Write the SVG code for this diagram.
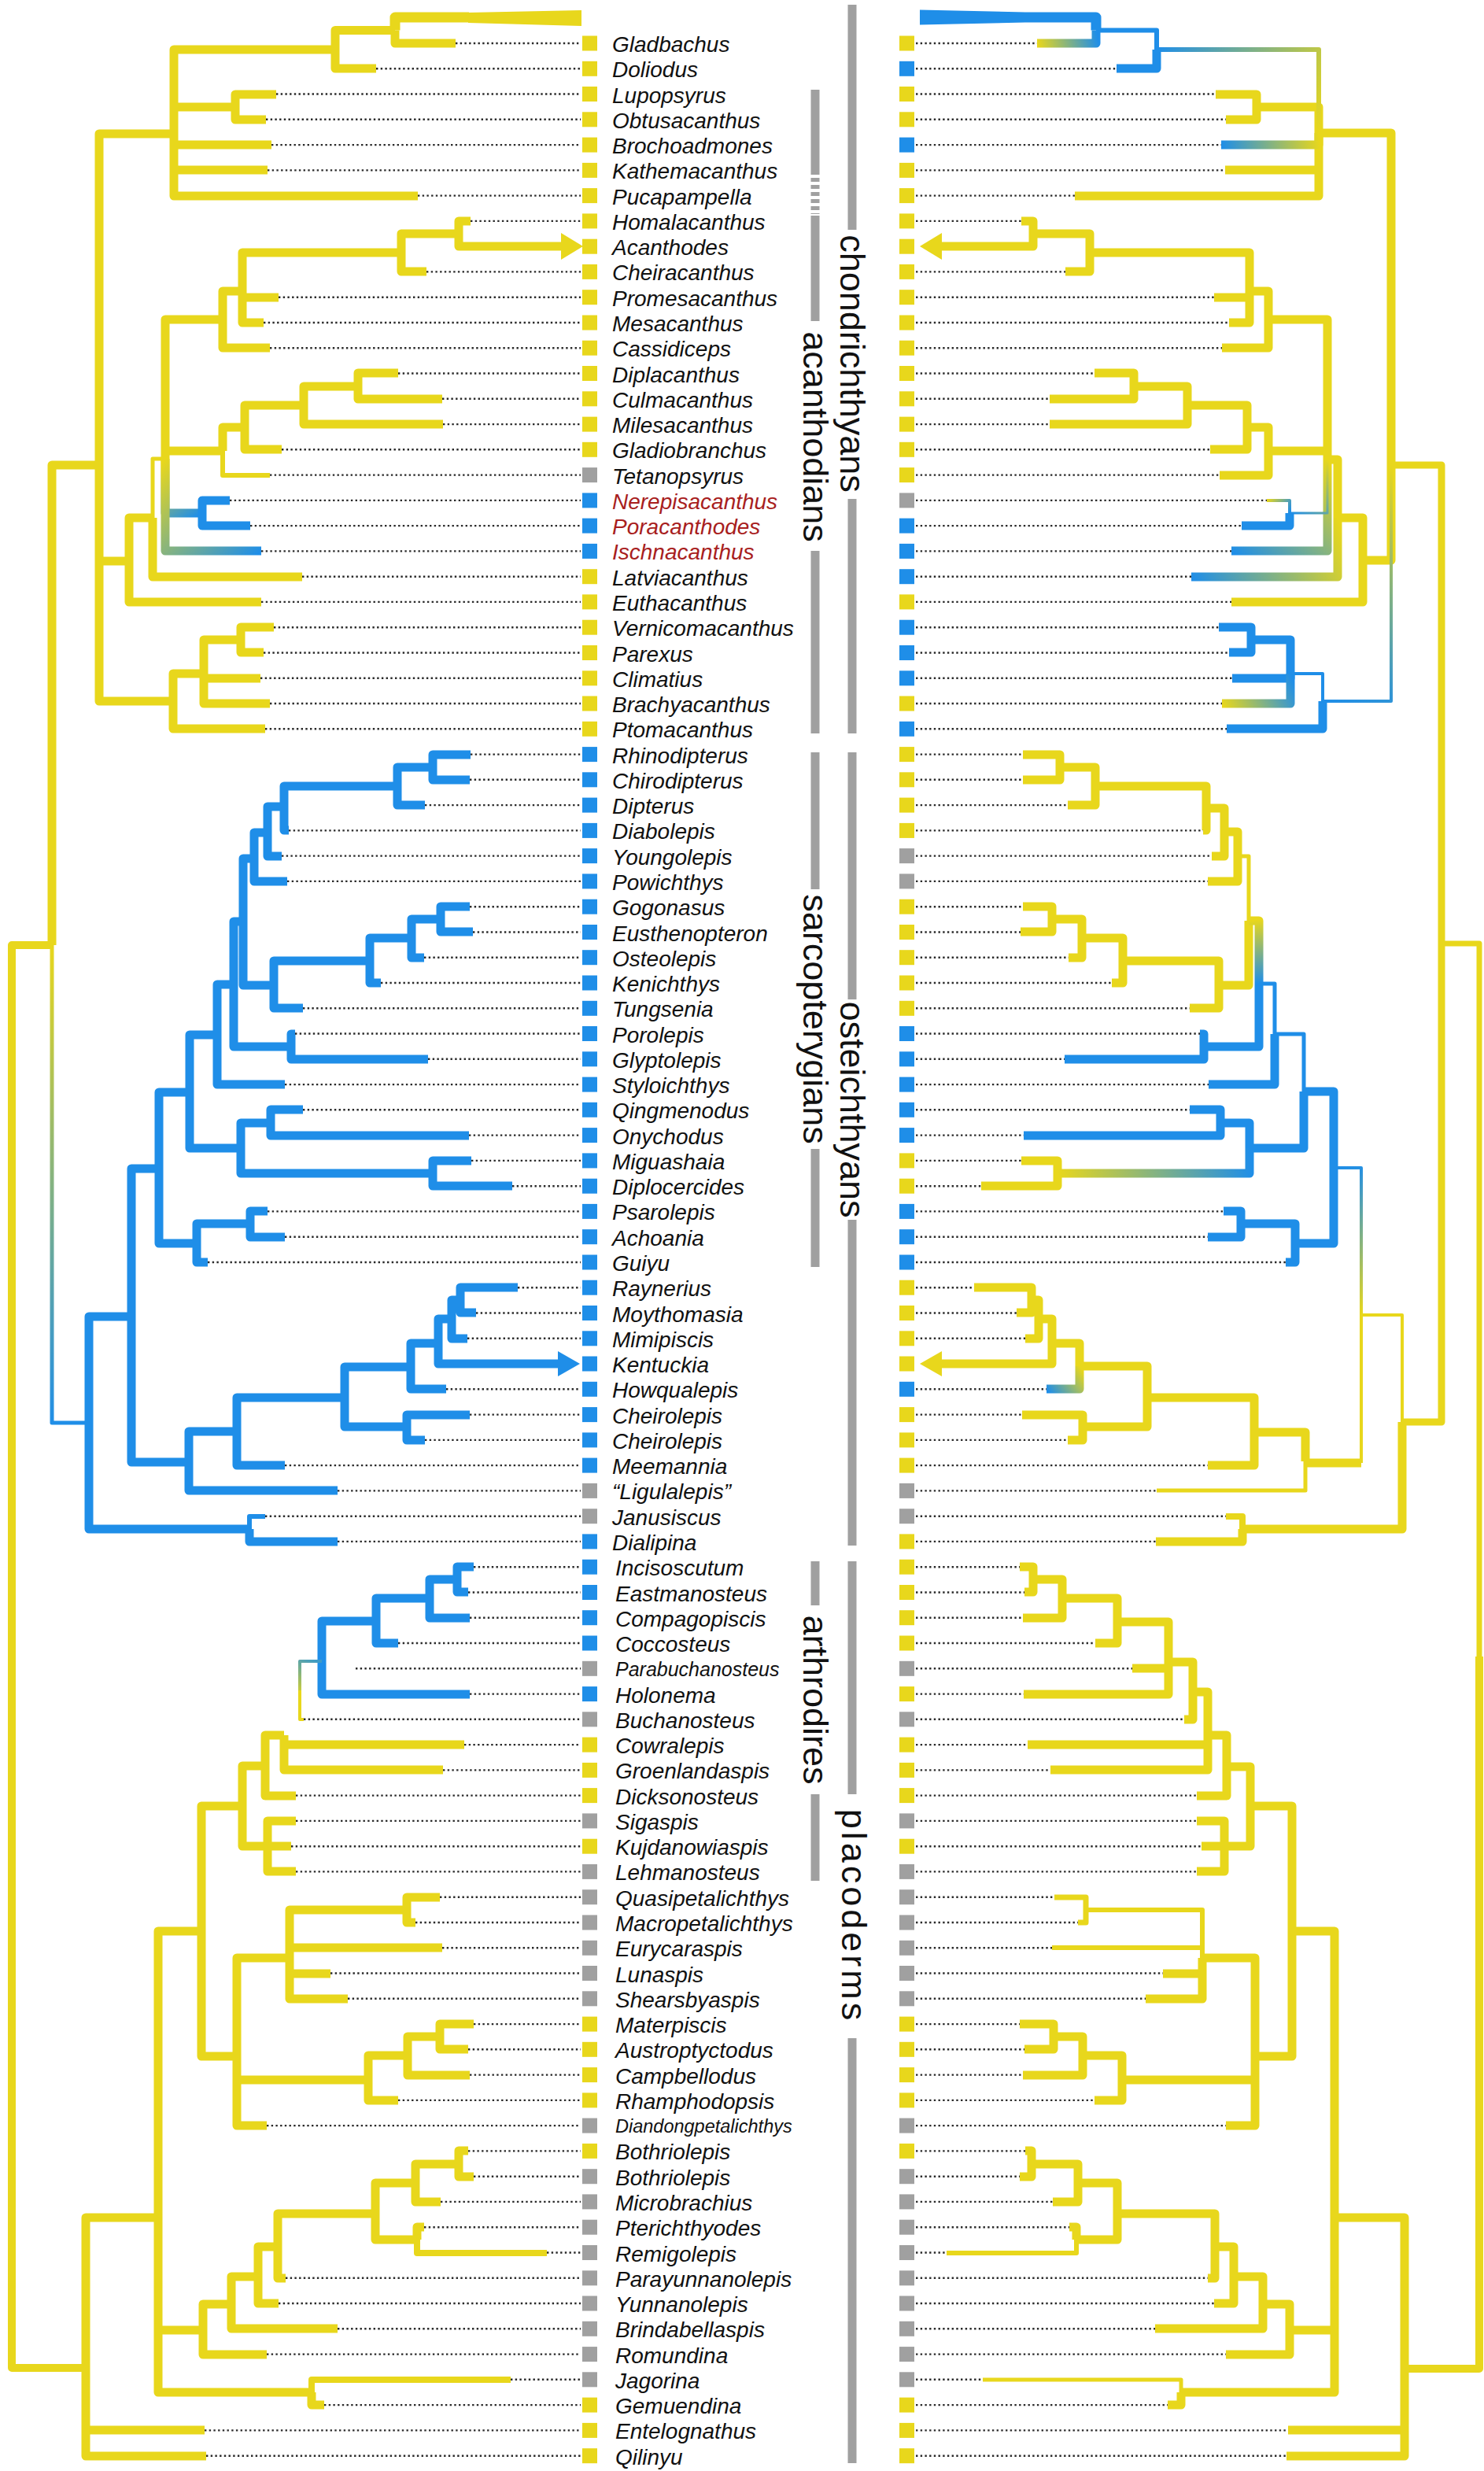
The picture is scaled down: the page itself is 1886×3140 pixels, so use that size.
<svg xmlns="http://www.w3.org/2000/svg" width="1886" height="3140" viewBox="0 0 1886 3140">
<style>
path{fill:none;stroke-linejoin:round;stroke-linecap:butt}
.y{stroke:#E8D71C}.b{stroke:#1F8EE8}
.w13{stroke-width:13}.w11{stroke-width:11}.w10{stroke-width:10}.w9{stroke-width:9}.w8{stroke-width:8}.w7{stroke-width:7}.w6{stroke-width:6}.w5{stroke-width:5}.w4{stroke-width:4}.w3{stroke-width:3}
.dot{stroke:#2a2a2a;stroke-width:2.4;stroke-dasharray:2.4 3.3}
.fy{fill:#E8D71C}.fb{fill:#1F8EE8}.fg{fill:#A0A0A0}
text.t{font-family:"Liberation Sans",Arial,sans-serif;font-style:italic;font-size:28px;fill:#111}
text.r{fill:#A81E1E}
text.c{font-family:"Liberation Sans",Arial,sans-serif;font-size:45px;fill:#111}
.bar{fill:#A0A0A0}
</style>
<defs>
<linearGradient id="gL1" gradientUnits="userSpaceOnUse" x1="210" y1="583" x2="257" y2="652"><stop offset="0" stop-color="#E8D71C"/><stop offset="1" stop-color="#1F8EE8"/></linearGradient>
<linearGradient id="gL2" gradientUnits="userSpaceOnUse" x1="210" y1="583" x2="332" y2="700"><stop offset="0" stop-color="#E8D71C"/><stop offset="1" stop-color="#1F8EE8"/></linearGradient>
<linearGradient id="gL3" gradientUnits="userSpaceOnUse" x1="66" y1="1201" x2="113" y2="1808"><stop offset="0" stop-color="#E8D71C"/><stop offset="1" stop-color="#1F8EE8"/></linearGradient>
<linearGradient id="gL4" gradientUnits="userSpaceOnUse" x1="381" y1="2160" x2="405" y2="2111"><stop offset="0" stop-color="#E8D71C"/><stop offset="1" stop-color="#3C9AC8"/></linearGradient>
<linearGradient id="gR1" gradientUnits="userSpaceOnUse" x1="1393" y1="38" x2="1318" y2="55"><stop offset="0" stop-color="#1F8EE8"/><stop offset="1" stop-color="#E8D71C"/></linearGradient>
<linearGradient id="gR2" gradientUnits="userSpaceOnUse" x1="1676" y1="169" x2="1470" y2="63"><stop offset="0" stop-color="#E8D71C"/><stop offset="1" stop-color="#1F8EE8"/></linearGradient>
<linearGradient id="gR3" gradientUnits="userSpaceOnUse" x1="1676" y1="169" x2="1552" y2="184"><stop offset="0" stop-color="#E8D71C"/><stop offset="1" stop-color="#1F8EE8"/></linearGradient>
<linearGradient id="gR4" gradientUnits="userSpaceOnUse" x1="1687" y1="584" x2="1565" y2="700"><stop offset="0" stop-color="#E8D71C"/><stop offset="1" stop-color="#1F8EE8"/></linearGradient>
<linearGradient id="gR5" gradientUnits="userSpaceOnUse" x1="1700" y1="658" x2="1514" y2="733"><stop offset="0" stop-color="#E8D71C"/><stop offset="1" stop-color="#1F8EE8"/></linearGradient>
<linearGradient id="gR6" gradientUnits="userSpaceOnUse" x1="1639" y1="652" x2="1610" y2="636"><stop offset="0" stop-color="#1F8EE8"/><stop offset="1" stop-color="#E8D71C"/></linearGradient>
<linearGradient id="gR7" gradientUnits="userSpaceOnUse" x1="1768" y1="591" x2="1681" y2="891"><stop offset="0" stop-color="#E8D71C"/><stop offset="1" stop-color="#1F8EE8"/></linearGradient>
<linearGradient id="gR8" gradientUnits="userSpaceOnUse" x1="1640" y1="856" x2="1553" y2="894"><stop offset="0" stop-color="#1F8EE8"/><stop offset="1" stop-color="#E8D71C"/></linearGradient>
<linearGradient id="gR9" gradientUnits="userSpaceOnUse" x1="1588" y1="1459" x2="1344" y2="1491"><stop offset="0" stop-color="#1F8EE8"/><stop offset="1" stop-color="#E8D71C"/></linearGradient>
<linearGradient id="gR10" gradientUnits="userSpaceOnUse" x1="1600" y1="1250" x2="1590" y2="1170"><stop offset="0" stop-color="#1F8EE8"/><stop offset="1" stop-color="#E8D71C"/></linearGradient>
<linearGradient id="gR11" gradientUnits="userSpaceOnUse" x1="1730" y1="1671" x2="1695" y2="1484"><stop offset="0" stop-color="#E8D71C"/><stop offset="1" stop-color="#1F8EE8"/></linearGradient>
<linearGradient id="gR12" gradientUnits="userSpaceOnUse" x1="1372" y1="1736" x2="1330" y2="1765"><stop offset="0" stop-color="#E8D71C"/><stop offset="1" stop-color="#1F8EE8"/></linearGradient>
<linearGradient id="gR13" gradientUnits="userSpaceOnUse" x1="1687" y1="584" x2="1639" y2="652"><stop offset="0" stop-color="#E8D71C"/><stop offset="1" stop-color="#1F8EE8"/></linearGradient>
</defs>
<rect width="1886" height="3140" fill="#fff"/>

<g id="connectors">
<g id="tree-left">
<path class="y w10" d="M15 2105V1201H66M15 2105V3009H109"/>
<path class="y w11" d="M66 1201V591H126M126 591V170H221M126 591V713H164M126 591V891H220M221 170V63H426M221 170V136H299M221 170V184H345M221 170V216H340M221 170V249H531M426 63V38.5H502M426 63V87H478M502 38.5V55H579M299 136V120H351M299 136V152H338M164 713V658H194M164 713V765H332M194 658V733H384M210 583V406H283M210 583V573H283M283 406V370H308M283 406V442H343M308 370V321H510M308 370V378H354M308 370V410H335M510 321V297H583M510 321V345H542M583 297V281H598M583 297V313H714M283 573V543H311M311 543V515H386M311 543V571H358M386 515V491H455M386 515V539H563M455 491V474H506M455 491V507H562M220 891V856H259M220 891V926H337M259 856V813H306M259 856V862H331M259 856V894H343M306 813V797H348M306 813V829H335"/>
<path class="y w13" d="M502 38.5V22H596"/>
<polygon class="fy" points="595,16 739,13 739,33 595,29"/>
<polygon class="fy" points="713,296 741,313 713,330"/>
<path class="y w6" d="M283 573V604H343"/>
<path class="y w5" d="M194 658V583H210"/>
<path stroke="url(#gL1)" class="w11" d="M210 583V652H257"/>
<path stroke="url(#gL2)" class="w11" d="M210 583V700H332"/>
<path class="b w11" d="M257 652V636H292M257 652V668H318"/>
<path stroke="url(#gL3)" class="w5" d="M66 1201V1808H113"/>
<path class="b w11" d="M113 1808V1673H167M113 1808V1943H317M317 1943V1959H429M167 1673V1485H202M167 1673V1858H240M202 1485V1388H241M202 1485V1580H250M241 1388V1315H276M241 1388V1459H306M276 1315V1251H297M276 1315V1378H362M297 1251V1171H309M297 1251V1330H370M309 1171V1091H323M309 1171V1252H348M323 1091V1058H340M323 1091V1120H365M340 1058V1025H361M340 1058V1088H358M361 1025V999H505M361 1025V1055H367M505 999V975H550M505 999V1023H540M550 975V959H598M550 975V991H597M348 1252V1221H470M348 1252V1281H385M470 1221V1192H523M470 1221V1249H484M523 1192V1168H560M523 1192V1217H539M560 1168V1152H597M560 1168V1184H601M370 1330V1314H375M370 1330V1346H544M306 1459V1427H344M306 1459V1491H550M344 1427V1410H385M344 1427V1443H596M550 1491V1475H599M550 1491V1507H651M250 1580V1555H318M250 1580V1604H264M318 1555V1539H340M318 1555V1572H362M240 1858V1819H301M240 1858V1894H429M301 1819V1776H438M301 1819V1862H362M438 1776V1737H522M438 1776V1813H517M517 1813V1798H597M517 1813V1830H540M522 1737V1707H557M522 1737V1765H567M557 1707V1676H574M557 1707V1733H710M574 1676V1652H585M574 1676V1701H594M585 1652V1636H658M585 1652V1668H605M409 2111V2060H478M409 2111V2153H597M478 2060V2031H546M478 2060V2088H506M546 2031V2007H581M546 2031V2056H597M581 2007V1991H602M581 2007V2023H595"/>
<path class="b w6" d="M317 1943V1927H337"/>
<polygon class="fb" points="709,1717 737,1733 709,1749"/>
<path stroke="url(#gL4)" class="w4" d="M381 2148V2111H409"/>
<path class="y w4" d="M381 2148V2185H386"/>
<path class="y w11" d="M109 3009V2818H201M109 3009V3088H260M109 3009V3121H262M201 2818V2454H256M201 2818V2961H258M201 2818V3040H396M396 3040V3056H412M256 2454V2295H308M256 2454V2613H301M308 2295V2244H337M308 2295V2346H340M340 2346V2314H376M340 2346H370M340 2346V2378H376M337 2244V2205H361M337 2244V2282H376M361 2205V2217H590M361 2205V2249H563M301 2613V2488H368M301 2613V2643H468M301 2613V2701H339M368 2488V2427H517M368 2488V2475H562M368 2488V2508H420M368 2488V2540H442M517 2427V2411H559M517 2427V2443H528M468 2643V2612H518M468 2643V2669H506M518 2612V2588H559M518 2612V2637H597M559 2588V2572H602M559 2588V2604H595M258 2961V2928H294M258 2961V2992H339M294 2928V2893H328M294 2928V2959H429M328 2893V2855H353M328 2893V2927H354M353 2855V2813H477M353 2855V2895H363M477 2813V2774H528M477 2813V2846H530M528 2774V2750H583M528 2774V2798H560M583 2750V2733H595M583 2750V2766H602M530 2846V2830H539"/>
<path class="y w8" d="M396 3040V3024H649M530 2846V2863H695"/>
</g>

<g id="tree-right">
<path class="y w7" d="M1880 2105V1199H1832"/>
<path class="y w10" d="M1880 2105V3010H1785"/>
<path class="y w9" d="M1832 1199V591H1768M1832 1199V1807H1782"/>
<path class="y w11" d="M1768 591V169H1676M1768 591V712H1732M1676 169V136H1597M1676 169V216H1557M1676 169V249H1366M1597 136V120H1545M1597 136V152H1558M1732 712V658H1700M1732 712V765H1565M1700 658V584H1687M1687 584V406H1612M1687 584V573H1612M1612 406V370H1588M1612 406V442H1553M1588 370V321H1385M1588 370V378H1543M1588 370V410H1562M1385 321V297H1313M1385 321V345H1354M1313 297V281H1298M1313 297V313H1196M1612 573V543H1585M1612 573V604H1550M1585 543V515H1509M1585 543V571H1538M1509 515V491H1441M1509 515V539H1334M1441 491V474H1391M1441 491V507H1334"/>
<polygon class="fy" points="1197,296 1169,313 1197,330"/>
<path stroke="url(#gR2)" class="w6" d="M1676 169V63H1470"/>
<path stroke="url(#gR3)" class="w11" d="M1676 169V184H1552"/>
<path class="b w6" d="M1470 63V38.5H1393"/>
<path class="b w11" d="M1470 63V87H1419"/>
<path class="b w13" d="M1393 38.5V22H1303"/>
<polygon class="fb" points="1303,15.5 1169,12.5 1169,31.5 1303,28.5"/>
<path stroke="url(#gR1)" class="w11" d="M1393 38.5V55H1318"/>
<path stroke="url(#gR4)" class="w11" d="M1687 584V700H1565"/>
<path stroke="url(#gR13)" class="w3" d="M1687 584V652H1639"/>
<path stroke="url(#gR5)" class="w11" d="M1700 658V733H1514"/>
<path stroke="url(#gR6)" class="w4" d="M1639 652V636H1610"/>
<path class="b w11" d="M1639 652V668H1578"/>
<path stroke="url(#gR7)" class="w4" d="M1768 591V891H1681"/>
<path class="b w4" d="M1681 891V856H1640"/>
<path class="b w11" d="M1681 891V926H1559M1640 856V813H1590M1640 856V862H1566M1590 813V797H1549M1590 813V829H1562"/>
<path stroke="url(#gR8)" class="w11" d="M1640 856V894H1553"/>
<path class="y w11" d="M1782 1807V1943H1579M1579 1943V1959H1469M1730 1859H1659M1659 1857V1820H1594M1594 1820V1776H1458M1594 1820V1862H1535M1458 1776V1736H1372M1458 1776V1813H1376M1376 1813V1798H1299M1376 1813V1830H1357M1372 1736V1707H1337M1337 1707V1676H1320M1337 1707V1733H1196M1320 1676V1652H1311M1320 1676V1701H1303M1311 1652V1636H1238M1311 1652V1668H1292M1344 1491V1475H1298M1344 1491V1507H1247M1587 1170V1252H1549M1573 1088V1057H1556M1573 1088V1120H1535M1556 1057V1027H1533M1556 1057V1088H1540M1533 1027V999H1392M1533 1027V1055H1529M1392 999V975H1347M1392 999V1023H1357M1347 975V959H1300M1347 975V991H1300M1549 1252V1221H1427M1549 1252V1281H1512M1427 1221V1192H1375M1427 1221V1249H1413M1375 1192V1168H1337M1375 1192V1217H1358M1337 1168V1152H1300M1337 1168V1184H1297"/>
<polygon class="fy" points="1197,1717 1169,1733 1197,1749"/>
<path class="y w8" d="M1579 1943V1927H1558"/>
<path class="y w4" d="M1782 1807V1671H1730M1730 1671V1859"/>
<path class="y w5" d="M1659 1857V1894H1470M1587 1170V1088H1573"/>
<path stroke="url(#gR11)" class="w4" d="M1730 1671V1484H1695"/>
<path stroke="url(#gR12)" class="w11" d="M1372 1736V1765H1330"/>
<path stroke="url(#gR9)" class="w11" d="M1588 1459V1491H1344"/>
<path stroke="url(#gR10)" class="w11" d="M1600 1250V1170H1587"/>
<path class="b w11" d="M1695 1484V1387H1657M1695 1484V1580H1646M1646 1580V1555H1577M1646 1580V1604H1634M1577 1555V1539H1555M1577 1555V1572H1535M1657 1387V1459H1588M1588 1459V1427H1551M1551 1427V1410H1512M1551 1427V1443H1301M1620 1314V1378H1536M1600 1250V1330H1530M1530 1330V1314H1525M1530 1330V1346H1353"/>
<path class="b w5" d="M1657 1387V1314H1620M1620 1314V1250H1600"/>
<path class="y w11" d="M1785 3010V2818H1696M1785 3010V3088H1637M1785 3010V3121H1635M1696 2818V2454H1642M1696 2818V2961H1639M1696 2818V3040H1501M1501 3040V3056H1484M1642 2454V2295H1589M1642 2454V2613H1595M1589 2295V2245H1559M1589 2295V2346H1556M1556 2346V2314H1521M1556 2346H1527M1556 2346V2378H1521M1559 2245V2205H1535M1559 2245V2282H1521M1535 2205V2150H1516M1535 2205V2217H1306M1535 2205V2249H1335M1516 2150V2112H1485M1516 2150V2185H1505M1485 2112V2061H1420M1485 2112V2120H1439M1485 2112V2153H1301M1420 2061V2031H1350M1420 2061V2088H1392M1350 2031V2007H1313M1350 2031V2056H1300M1313 2007V1991H1296M1313 2007V2023H1302M1595 2613V2488H1528M1595 2613V2643H1426M1595 2613V2701H1558M1528 2488V2508H1478M1528 2488V2540H1456M1426 2643V2612H1376M1426 2643V2669H1391M1376 2612V2588H1339M1376 2612V2637H1300M1339 2588V2572H1296M1339 2588V2604H1302M1639 2961V2928H1605M1639 2961V2992H1558M1605 2928V2893H1568M1605 2928V2959H1468M1568 2893V2855H1544M1568 2893V2927H1543M1544 2855V2813H1420M1544 2855V2895H1535M1420 2813V2774H1370M1420 2813V2846H1368M1370 2774V2750H1311M1370 2774V2798H1338M1311 2750V2733H1303M1311 2750V2766H1296M1368 2846V2830H1359"/>
<path class="y w6" d="M1528 2488V2427H1380M1528 2488V2475H1337M1368 2846V2863H1203"/>
<path class="y w7" d="M1380 2427V2411H1340M1380 2427V2443H1370"/>
<path class="y w5" d="M1501 3040V3024H1249"/>
</g>

<g id="leader-dots">
<path class="dot" d="M579 55H738M478 87.3H738M351 119.5H738M338 151.8H738M345 184.1H738M340 216.4H738M531 248.6H738M598 280.9H738M542 345.4H738M354 377.7H738M335 410H738M343 442.2H738M506 474.5H738M562 506.8H738M563 539.1H738M358 571.3H738M343 603.6H738M292 635.9H738M318 668.1H738M332 700.4H738M384 732.7H738M332 764.9H738M348 797.2H738M335 829.5H738M331 861.8H738M343 894H738M337 926.3H738M598 958.6H738M597 990.8H738M540 1023.1H738M367 1055.4H738M358 1087.6H738M365 1119.9H738M597 1152.2H738M601 1184.5H738M539 1216.7H738M484 1249H738M385 1281.3H738M375 1313.5H738M544 1345.8H738M362 1378.1H738M385 1410.3H738M596 1442.6H738M599 1474.9H738M651 1507.2H738M340 1539.4H738M362 1571.7H738M264 1604H738M658 1636.2H738M605 1668.5H738M594 1700.8H738M567 1765.3H738M597 1797.6H738M540 1829.9H738M362 1862.1H738M429 1894.4H738M337 1926.7H738M429 1958.9H738M602 1991.2H738M595 2023.5H738M597 2055.7H738M506 2088H738M452 2120.3H738M597 2152.6H738M386 2184.8H738M590 2217.1H738M563 2249.4H738M376 2281.6H738M376 2313.9H738M370 2346.2H738M376 2378.4H738M559 2410.7H738M528 2443H738M562 2475.3H738M420 2507.5H738M442 2539.8H738M602 2572.1H738M595 2604.3H738M597 2636.6H738M506 2668.9H738M339 2701.1H738M595 2733.4H738M602 2765.7H738M560 2797.9H738M539 2830.2H738M695 2862.5H738M363 2894.8H738M354 2927H738M429 2959.3H738M339 2991.6H738M649 3023.8H738M412 3056.1H738M260 3088.4H738M262 3120.7H738"/>
<path class="dot" d="M1164 55H1318M1164 87.3H1419M1164 119.5H1545M1164 151.8H1558M1164 184.1H1552M1164 216.4H1557M1164 248.6H1366M1164 280.9H1298M1164 345.4H1354M1164 377.7H1543M1164 410H1562M1164 442.2H1553M1164 474.5H1391M1164 506.8H1334M1164 539.1H1334M1164 571.3H1538M1164 603.6H1550M1164 635.9H1610M1164 668.1H1578M1164 700.4H1565M1164 732.7H1514M1164 764.9H1565M1164 797.2H1549M1164 829.5H1562M1164 861.8H1566M1164 894H1553M1164 926.3H1559M1164 958.6H1300M1164 990.8H1300M1164 1023.1H1357M1164 1055.4H1529M1164 1087.6H1540M1164 1119.9H1535M1164 1152.2H1300M1164 1184.5H1297M1164 1216.7H1358M1164 1249H1413M1164 1281.3H1512M1164 1313.5H1525M1164 1345.8H1353M1164 1378.1H1536M1164 1410.3H1512M1164 1442.6H1301M1164 1474.9H1298M1164 1507.2H1247M1164 1539.4H1555M1164 1571.7H1535M1164 1604H1634M1164 1636.2H1238M1164 1668.5H1292M1164 1700.8H1303M1164 1765.3H1330M1164 1797.6H1299M1164 1829.9H1357M1164 1862.1H1535M1164 1894.4H1470M1164 1926.7H1558M1164 1958.9H1469M1164 1991.2H1296M1164 2023.5H1302M1164 2055.7H1300M1164 2088H1392M1164 2120.3H1439M1164 2152.6H1301M1164 2184.8H1505M1164 2217.1H1306M1164 2249.4H1335M1164 2281.6H1521M1164 2313.9H1521M1164 2346.2H1527M1164 2378.4H1521M1164 2410.7H1340M1164 2443H1370M1164 2475.3H1337M1164 2507.5H1478M1164 2539.8H1456M1164 2572.1H1296M1164 2604.3H1302M1164 2636.6H1300M1164 2668.9H1391M1164 2701.1H1558M1164 2733.4H1303M1164 2765.7H1296M1164 2797.9H1338M1164 2830.2H1359M1164 2862.5H1203M1164 2894.8H1535M1164 2927H1543M1164 2959.3H1468M1164 2991.6H1558M1164 3023.8H1249M1164 3056.1H1484M1164 3088.4H1637M1164 3120.7H1635"/>
</g>
</g>

<g id="taxa">
<g id="t01"><rect class="fy" x="740" y="45.5" width="19" height="19"/><rect class="fy" x="1143" y="45.5" width="19" height="19"/><text class="t" x="778" y="66">Gladbachus</text></g>
<g id="t02"><rect class="fy" x="740" y="77.8" width="19" height="19"/><rect class="fb" x="1143" y="77.8" width="19" height="19"/><text class="t" x="778" y="98.3">Doliodus</text></g>
<g id="t03"><rect class="fy" x="740" y="110" width="19" height="19"/><rect class="fy" x="1143" y="110" width="19" height="19"/><text class="t" x="778" y="130.5">Lupopsyrus</text></g>
<g id="t04"><rect class="fy" x="740" y="142.3" width="19" height="19"/><rect class="fy" x="1143" y="142.3" width="19" height="19"/><text class="t" x="778" y="162.8">Obtusacanthus</text></g>
<g id="t05"><rect class="fy" x="740" y="174.6" width="19" height="19"/><rect class="fb" x="1143" y="174.6" width="19" height="19"/><text class="t" x="778" y="195.1">Brochoadmones</text></g>
<g id="t06"><rect class="fy" x="740" y="206.9" width="19" height="19"/><rect class="fy" x="1143" y="206.9" width="19" height="19"/><text class="t" x="778" y="227.4">Kathemacanthus</text></g>
<g id="t07"><rect class="fy" x="740" y="239.1" width="19" height="19"/><rect class="fy" x="1143" y="239.1" width="19" height="19"/><text class="t" x="778" y="259.6">Pucapampella</text></g>
<g id="t08"><rect class="fy" x="740" y="271.4" width="19" height="19"/><rect class="fy" x="1143" y="271.4" width="19" height="19"/><text class="t" x="778" y="291.9">Homalacanthus</text></g>
<g id="t09"><rect class="fy" x="740" y="303.7" width="19" height="19"/><rect class="fy" x="1143" y="303.7" width="19" height="19"/><text class="t" x="778" y="324.2">Acanthodes</text></g>
<g id="t10"><rect class="fy" x="740" y="335.9" width="19" height="19"/><rect class="fy" x="1143" y="335.9" width="19" height="19"/><text class="t" x="778" y="356.4">Cheiracanthus</text></g>
<g id="t11"><rect class="fy" x="740" y="368.2" width="19" height="19"/><rect class="fy" x="1143" y="368.2" width="19" height="19"/><text class="t" x="778" y="388.7">Promesacanthus</text></g>
<g id="t12"><rect class="fy" x="740" y="400.5" width="19" height="19"/><rect class="fy" x="1143" y="400.5" width="19" height="19"/><text class="t" x="778" y="421">Mesacanthus</text></g>
<g id="t13"><rect class="fy" x="740" y="432.7" width="19" height="19"/><rect class="fy" x="1143" y="432.7" width="19" height="19"/><text class="t" x="778" y="453.2">Cassidiceps</text></g>
<g id="t14"><rect class="fy" x="740" y="465" width="19" height="19"/><rect class="fy" x="1143" y="465" width="19" height="19"/><text class="t" x="778" y="485.5">Diplacanthus</text></g>
<g id="t15"><rect class="fy" x="740" y="497.3" width="19" height="19"/><rect class="fy" x="1143" y="497.3" width="19" height="19"/><text class="t" x="778" y="517.8">Culmacanthus</text></g>
<g id="t16"><rect class="fy" x="740" y="529.6" width="19" height="19"/><rect class="fy" x="1143" y="529.6" width="19" height="19"/><text class="t" x="778" y="550.1">Milesacanthus</text></g>
<g id="t17"><rect class="fy" x="740" y="561.8" width="19" height="19"/><rect class="fy" x="1143" y="561.8" width="19" height="19"/><text class="t" x="778" y="582.3">Gladiobranchus</text></g>
<g id="t18"><rect class="fg" x="740" y="594.1" width="19" height="19"/><rect class="fy" x="1143" y="594.1" width="19" height="19"/><text class="t" x="778" y="614.6">Tetanopsyrus</text></g>
<g id="t19"><rect class="fb" x="740" y="626.4" width="19" height="19"/><rect class="fg" x="1143" y="626.4" width="19" height="19"/><text class="t r" x="778" y="646.9">Nerepisacanthus</text></g>
<g id="t20"><rect class="fb" x="740" y="658.6" width="19" height="19"/><rect class="fb" x="1143" y="658.6" width="19" height="19"/><text class="t r" x="778" y="679.1">Poracanthodes</text></g>
<g id="t21"><rect class="fb" x="740" y="690.9" width="19" height="19"/><rect class="fb" x="1143" y="690.9" width="19" height="19"/><text class="t r" x="778" y="711.4">Ischnacanthus</text></g>
<g id="t22"><rect class="fy" x="740" y="723.2" width="19" height="19"/><rect class="fb" x="1143" y="723.2" width="19" height="19"/><text class="t" x="778" y="743.7">Latviacanthus</text></g>
<g id="t23"><rect class="fy" x="740" y="755.4" width="19" height="19"/><rect class="fy" x="1143" y="755.4" width="19" height="19"/><text class="t" x="778" y="775.9">Euthacanthus</text></g>
<g id="t24"><rect class="fy" x="740" y="787.7" width="19" height="19"/><rect class="fb" x="1143" y="787.7" width="19" height="19"/><text class="t" x="778" y="808.2">Vernicomacanthus</text></g>
<g id="t25"><rect class="fy" x="740" y="820" width="19" height="19"/><rect class="fb" x="1143" y="820" width="19" height="19"/><text class="t" x="778" y="840.5">Parexus</text></g>
<g id="t26"><rect class="fy" x="740" y="852.3" width="19" height="19"/><rect class="fb" x="1143" y="852.3" width="19" height="19"/><text class="t" x="778" y="872.8">Climatius</text></g>
<g id="t27"><rect class="fy" x="740" y="884.5" width="19" height="19"/><rect class="fy" x="1143" y="884.5" width="19" height="19"/><text class="t" x="778" y="905">Brachyacanthus</text></g>
<g id="t28"><rect class="fy" x="740" y="916.8" width="19" height="19"/><rect class="fb" x="1143" y="916.8" width="19" height="19"/><text class="t" x="778" y="937.3">Ptomacanthus</text></g>
<g id="t29"><rect class="fb" x="740" y="949.1" width="19" height="19"/><rect class="fy" x="1143" y="949.1" width="19" height="19"/><text class="t" x="778" y="969.6">Rhinodipterus</text></g>
<g id="t30"><rect class="fb" x="740" y="981.3" width="19" height="19"/><rect class="fy" x="1143" y="981.3" width="19" height="19"/><text class="t" x="778" y="1001.8">Chirodipterus</text></g>
<g id="t31"><rect class="fb" x="740" y="1013.6" width="19" height="19"/><rect class="fy" x="1143" y="1013.6" width="19" height="19"/><text class="t" x="778" y="1034.1">Dipterus</text></g>
<g id="t32"><rect class="fb" x="740" y="1045.9" width="19" height="19"/><rect class="fy" x="1143" y="1045.9" width="19" height="19"/><text class="t" x="778" y="1066.4">Diabolepis</text></g>
<g id="t33"><rect class="fb" x="740" y="1078.1" width="19" height="19"/><rect class="fg" x="1143" y="1078.1" width="19" height="19"/><text class="t" x="778" y="1098.6">Youngolepis</text></g>
<g id="t34"><rect class="fb" x="740" y="1110.4" width="19" height="19"/><rect class="fg" x="1143" y="1110.4" width="19" height="19"/><text class="t" x="778" y="1130.9">Powichthys</text></g>
<g id="t35"><rect class="fb" x="740" y="1142.7" width="19" height="19"/><rect class="fy" x="1143" y="1142.7" width="19" height="19"/><text class="t" x="778" y="1163.2">Gogonasus</text></g>
<g id="t36"><rect class="fb" x="740" y="1175" width="19" height="19"/><rect class="fy" x="1143" y="1175" width="19" height="19"/><text class="t" x="778" y="1195.5">Eusthenopteron</text></g>
<g id="t37"><rect class="fb" x="740" y="1207.2" width="19" height="19"/><rect class="fy" x="1143" y="1207.2" width="19" height="19"/><text class="t" x="778" y="1227.7">Osteolepis</text></g>
<g id="t38"><rect class="fb" x="740" y="1239.5" width="19" height="19"/><rect class="fy" x="1143" y="1239.5" width="19" height="19"/><text class="t" x="778" y="1260">Kenichthys</text></g>
<g id="t39"><rect class="fb" x="740" y="1271.8" width="19" height="19"/><rect class="fy" x="1143" y="1271.8" width="19" height="19"/><text class="t" x="778" y="1292.3">Tungsenia</text></g>
<g id="t40"><rect class="fb" x="740" y="1304" width="19" height="19"/><rect class="fb" x="1143" y="1304" width="19" height="19"/><text class="t" x="778" y="1324.5">Porolepis</text></g>
<g id="t41"><rect class="fb" x="740" y="1336.3" width="19" height="19"/><rect class="fb" x="1143" y="1336.3" width="19" height="19"/><text class="t" x="778" y="1356.8">Glyptolepis</text></g>
<g id="t42"><rect class="fb" x="740" y="1368.6" width="19" height="19"/><rect class="fb" x="1143" y="1368.6" width="19" height="19"/><text class="t" x="778" y="1389.1">Styloichthys</text></g>
<g id="t43"><rect class="fb" x="740" y="1400.8" width="19" height="19"/><rect class="fb" x="1143" y="1400.8" width="19" height="19"/><text class="t" x="778" y="1421.3">Qingmenodus</text></g>
<g id="t44"><rect class="fb" x="740" y="1433.1" width="19" height="19"/><rect class="fb" x="1143" y="1433.1" width="19" height="19"/><text class="t" x="778" y="1453.6">Onychodus</text></g>
<g id="t45"><rect class="fb" x="740" y="1465.4" width="19" height="19"/><rect class="fy" x="1143" y="1465.4" width="19" height="19"/><text class="t" x="778" y="1485.9">Miguashaia</text></g>
<g id="t46"><rect class="fb" x="740" y="1497.7" width="19" height="19"/><rect class="fy" x="1143" y="1497.7" width="19" height="19"/><text class="t" x="778" y="1518.2">Diplocercides</text></g>
<g id="t47"><rect class="fb" x="740" y="1529.9" width="19" height="19"/><rect class="fb" x="1143" y="1529.9" width="19" height="19"/><text class="t" x="778" y="1550.4">Psarolepis</text></g>
<g id="t48"><rect class="fb" x="740" y="1562.2" width="19" height="19"/><rect class="fb" x="1143" y="1562.2" width="19" height="19"/><text class="t" x="778" y="1582.7">Achoania</text></g>
<g id="t49"><rect class="fb" x="740" y="1594.5" width="19" height="19"/><rect class="fb" x="1143" y="1594.5" width="19" height="19"/><text class="t" x="778" y="1615">Guiyu</text></g>
<g id="t50"><rect class="fb" x="740" y="1626.7" width="19" height="19"/><rect class="fy" x="1143" y="1626.7" width="19" height="19"/><text class="t" x="778" y="1647.2">Raynerius</text></g>
<g id="t51"><rect class="fb" x="740" y="1659" width="19" height="19"/><rect class="fy" x="1143" y="1659" width="19" height="19"/><text class="t" x="778" y="1679.5">Moythomasia</text></g>
<g id="t52"><rect class="fb" x="740" y="1691.3" width="19" height="19"/><rect class="fy" x="1143" y="1691.3" width="19" height="19"/><text class="t" x="778" y="1711.8">Mimipiscis</text></g>
<g id="t53"><rect class="fb" x="740" y="1723.5" width="19" height="19"/><rect class="fy" x="1143" y="1723.5" width="19" height="19"/><text class="t" x="778" y="1744">Kentuckia</text></g>
<g id="t54"><rect class="fb" x="740" y="1755.8" width="19" height="19"/><rect class="fb" x="1143" y="1755.8" width="19" height="19"/><text class="t" x="778" y="1776.3">Howqualepis</text></g>
<g id="t55"><rect class="fb" x="740" y="1788.1" width="19" height="19"/><rect class="fy" x="1143" y="1788.1" width="19" height="19"/><text class="t" x="778" y="1808.6">Cheirolepis</text></g>
<g id="t56"><rect class="fb" x="740" y="1820.4" width="19" height="19"/><rect class="fy" x="1143" y="1820.4" width="19" height="19"/><text class="t" x="778" y="1840.9">Cheirolepis</text></g>
<g id="t57"><rect class="fb" x="740" y="1852.6" width="19" height="19"/><rect class="fy" x="1143" y="1852.6" width="19" height="19"/><text class="t" x="778" y="1873.1">Meemannia</text></g>
<g id="t58"><rect class="fg" x="740" y="1884.9" width="19" height="19"/><rect class="fg" x="1143" y="1884.9" width="19" height="19"/><text class="t" x="778" y="1905.4">“Ligulalepis”</text></g>
<g id="t59"><rect class="fg" x="740" y="1917.2" width="19" height="19"/><rect class="fg" x="1143" y="1917.2" width="19" height="19"/><text class="t" x="778" y="1937.7">Janusiscus</text></g>
<g id="t60"><rect class="fb" x="740" y="1949.4" width="19" height="19"/><rect class="fy" x="1143" y="1949.4" width="19" height="19"/><text class="t" x="778" y="1969.9">Dialipina</text></g>
<g id="t61"><rect class="fb" x="740" y="1981.7" width="19" height="19"/><rect class="fy" x="1143" y="1981.7" width="19" height="19"/><text class="t" x="782" y="2002.2">Incisoscutum</text></g>
<g id="t62"><rect class="fb" x="740" y="2014" width="19" height="19"/><rect class="fy" x="1143" y="2014" width="19" height="19"/><text class="t" x="782" y="2034.5">Eastmanosteus</text></g>
<g id="t63"><rect class="fb" x="740" y="2046.2" width="19" height="19"/><rect class="fy" x="1143" y="2046.2" width="19" height="19"/><text class="t" x="782" y="2066.7">Compagopiscis</text></g>
<g id="t64"><rect class="fb" x="740" y="2078.5" width="19" height="19"/><rect class="fy" x="1143" y="2078.5" width="19" height="19"/><text class="t" x="782" y="2099">Coccosteus</text></g>
<g id="t65"><rect class="fg" x="740" y="2110.8" width="19" height="19"/><rect class="fg" x="1143" y="2110.8" width="19" height="19"/><text class="t" x="782" y="2129.8" style="font-size:25px">Parabuchanosteus</text></g>
<g id="t66"><rect class="fb" x="740" y="2143.1" width="19" height="19"/><rect class="fy" x="1143" y="2143.1" width="19" height="19"/><text class="t" x="782" y="2163.6">Holonema</text></g>
<g id="t67"><rect class="fg" x="740" y="2175.3" width="19" height="19"/><rect class="fg" x="1143" y="2175.3" width="19" height="19"/><text class="t" x="782" y="2195.8">Buchanosteus</text></g>
<g id="t68"><rect class="fy" x="740" y="2207.6" width="19" height="19"/><rect class="fy" x="1143" y="2207.6" width="19" height="19"/><text class="t" x="782" y="2228.1">Cowralepis</text></g>
<g id="t69"><rect class="fy" x="740" y="2239.9" width="19" height="19"/><rect class="fy" x="1143" y="2239.9" width="19" height="19"/><text class="t" x="782" y="2260.4">Groenlandaspis</text></g>
<g id="t70"><rect class="fy" x="740" y="2272.1" width="19" height="19"/><rect class="fy" x="1143" y="2272.1" width="19" height="19"/><text class="t" x="782" y="2292.6">Dicksonosteus</text></g>
<g id="t71"><rect class="fg" x="740" y="2304.4" width="19" height="19"/><rect class="fg" x="1143" y="2304.4" width="19" height="19"/><text class="t" x="782" y="2324.9">Sigaspis</text></g>
<g id="t72"><rect class="fy" x="740" y="2336.7" width="19" height="19"/><rect class="fy" x="1143" y="2336.7" width="19" height="19"/><text class="t" x="782" y="2357.2">Kujdanowiaspis</text></g>
<g id="t73"><rect class="fg" x="740" y="2368.9" width="19" height="19"/><rect class="fg" x="1143" y="2368.9" width="19" height="19"/><text class="t" x="782" y="2389.4">Lehmanosteus</text></g>
<g id="t74"><rect class="fg" x="740" y="2401.2" width="19" height="19"/><rect class="fg" x="1143" y="2401.2" width="19" height="19"/><text class="t" x="782" y="2421.7">Quasipetalichthys</text></g>
<g id="t75"><rect class="fg" x="740" y="2433.5" width="19" height="19"/><rect class="fg" x="1143" y="2433.5" width="19" height="19"/><text class="t" x="782" y="2454">Macropetalichthys</text></g>
<g id="t76"><rect class="fg" x="740" y="2465.8" width="19" height="19"/><rect class="fg" x="1143" y="2465.8" width="19" height="19"/><text class="t" x="782" y="2486.3">Eurycaraspis</text></g>
<g id="t77"><rect class="fg" x="740" y="2498" width="19" height="19"/><rect class="fg" x="1143" y="2498" width="19" height="19"/><text class="t" x="782" y="2518.5">Lunaspis</text></g>
<g id="t78"><rect class="fg" x="740" y="2530.3" width="19" height="19"/><rect class="fg" x="1143" y="2530.3" width="19" height="19"/><text class="t" x="782" y="2550.8">Shearsbyaspis</text></g>
<g id="t79"><rect class="fy" x="740" y="2562.6" width="19" height="19"/><rect class="fy" x="1143" y="2562.6" width="19" height="19"/><text class="t" x="782" y="2583.1">Materpiscis</text></g>
<g id="t80"><rect class="fy" x="740" y="2594.8" width="19" height="19"/><rect class="fy" x="1143" y="2594.8" width="19" height="19"/><text class="t" x="782" y="2615.3">Austroptyctodus</text></g>
<g id="t81"><rect class="fy" x="740" y="2627.1" width="19" height="19"/><rect class="fy" x="1143" y="2627.1" width="19" height="19"/><text class="t" x="782" y="2647.6">Campbellodus</text></g>
<g id="t82"><rect class="fy" x="740" y="2659.4" width="19" height="19"/><rect class="fy" x="1143" y="2659.4" width="19" height="19"/><text class="t" x="782" y="2679.9">Rhamphodopsis</text></g>
<g id="t83"><rect class="fg" x="740" y="2691.6" width="19" height="19"/><rect class="fg" x="1143" y="2691.6" width="19" height="19"/><text class="t" x="782" y="2710.1" style="font-size:23.5px">Diandongpetalichthys</text></g>
<g id="t84"><rect class="fy" x="740" y="2723.9" width="19" height="19"/><rect class="fy" x="1143" y="2723.9" width="19" height="19"/><text class="t" x="782" y="2744.4">Bothriolepis</text></g>
<g id="t85"><rect class="fg" x="740" y="2756.2" width="19" height="19"/><rect class="fg" x="1143" y="2756.2" width="19" height="19"/><text class="t" x="782" y="2776.7">Bothriolepis</text></g>
<g id="t86"><rect class="fg" x="740" y="2788.4" width="19" height="19"/><rect class="fg" x="1143" y="2788.4" width="19" height="19"/><text class="t" x="782" y="2808.9">Microbrachius</text></g>
<g id="t87"><rect class="fg" x="740" y="2820.7" width="19" height="19"/><rect class="fg" x="1143" y="2820.7" width="19" height="19"/><text class="t" x="782" y="2841.2">Pterichthyodes</text></g>
<g id="t88"><rect class="fg" x="740" y="2853" width="19" height="19"/><rect class="fg" x="1143" y="2853" width="19" height="19"/><text class="t" x="782" y="2873.5">Remigolepis</text></g>
<g id="t89"><rect class="fg" x="740" y="2885.3" width="19" height="19"/><rect class="fg" x="1143" y="2885.3" width="19" height="19"/><text class="t" x="782" y="2905.8">Parayunnanolepis</text></g>
<g id="t90"><rect class="fg" x="740" y="2917.5" width="19" height="19"/><rect class="fg" x="1143" y="2917.5" width="19" height="19"/><text class="t" x="782" y="2938">Yunnanolepis</text></g>
<g id="t91"><rect class="fg" x="740" y="2949.8" width="19" height="19"/><rect class="fg" x="1143" y="2949.8" width="19" height="19"/><text class="t" x="782" y="2970.3">Brindabellaspis</text></g>
<g id="t92"><rect class="fg" x="740" y="2982.1" width="19" height="19"/><rect class="fg" x="1143" y="2982.1" width="19" height="19"/><text class="t" x="782" y="3002.6">Romundina</text></g>
<g id="t93"><rect class="fg" x="740" y="3014.3" width="19" height="19"/><rect class="fg" x="1143" y="3014.3" width="19" height="19"/><text class="t" x="782" y="3034.8">Jagorina</text></g>
<g id="t94"><rect class="fy" x="740" y="3046.6" width="19" height="19"/><rect class="fy" x="1143" y="3046.6" width="19" height="19"/><text class="t" x="782" y="3067.1">Gemuendina</text></g>
<g id="t95"><rect class="fy" x="740" y="3078.9" width="19" height="19"/><rect class="fy" x="1143" y="3078.9" width="19" height="19"/><text class="t" x="782" y="3099.4">Entelognathus</text></g>
<g id="t96"><rect class="fy" x="740" y="3111.2" width="19" height="19"/><rect class="fy" x="1143" y="3111.2" width="19" height="19"/><text class="t" x="782" y="3131.7">Qilinyu</text></g>
</g>

<g id="clades">
<rect class="bar" x="1077.5" y="6" width="11" height="286"/>
<rect class="bar" x="1077.5" y="634" width="11" height="298"/>
<text class="c" text-anchor="middle" dominant-baseline="central" transform="translate(1083 462) rotate(90)">chondrichthyans</text>
<rect class="bar" x="1030.5" y="114" width="11" height="108"/>
<path d="M1036 226V272" style="stroke:#A0A0A0;stroke-width:11;stroke-dasharray:5 4"/>
<rect class="bar" x="1030.5" y="274" width="11" height="134"/>
<rect class="bar" x="1030.5" y="700" width="11" height="232"/>
<text class="c" text-anchor="middle" dominant-baseline="central" transform="translate(1036 555) rotate(90)">acanthodians</text>
<rect class="bar" x="1077.5" y="956" width="11" height="314"/>
<rect class="bar" x="1077.5" y="1550" width="11" height="414"/>
<text class="c" text-anchor="middle" dominant-baseline="central" transform="translate(1083 1410) rotate(90)">osteichthyans</text>
<rect class="bar" x="1030.5" y="956" width="11" height="174"/>
<rect class="bar" x="1030.5" y="1460" width="11" height="150"/>
<text class="c" text-anchor="middle" dominant-baseline="central" transform="translate(1036 1295) rotate(90)">sarcopterygians</text>
<rect class="bar" x="1030.5" y="1984" width="11" height="56"/>
<rect class="bar" x="1030.5" y="2280" width="11" height="110"/>
<text class="c" text-anchor="middle" dominant-baseline="central" transform="translate(1036 2160) rotate(90)">arthrodires</text>
<rect class="bar" x="1077.5" y="1984" width="11" height="296"/>
<rect class="bar" x="1077.5" y="2590" width="11" height="540"/>
<text class="c" text-anchor="middle" dominant-baseline="central" transform="translate(1085 2435) rotate(90)" style="letter-spacing:4px">placoderms</text>
</g>
</svg>
